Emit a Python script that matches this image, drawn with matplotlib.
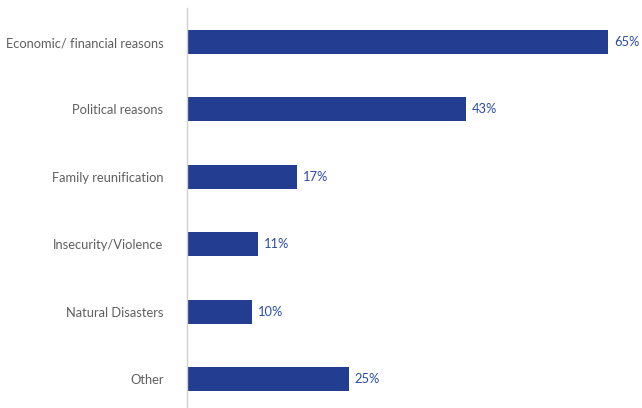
import matplotlib.pyplot as plt

categories = ['Economic/ financial reasons', 'Political reasons', 'Family reunification',
              'Insecurity/Violence', 'Natural Disasters', 'Other']
values = [65, 43, 17, 11, 10, 25]

bar_color = '#233E91'
label_color = '#5F5F5F'
value_color = '#2A4AA8'

plt.rcParams['font.family'] = ['Lato', 'DejaVu Sans']

fig = plt.figure(figsize=(6.42, 4.08), dpi=100)
ax = fig.add_axes([187 / 642, 0, 453.6 / 642, 400 / 408])

pos = list(range(len(categories)))
ax.barh(pos, values, height=0.356, color=bar_color)
for p, v in zip(pos, values):
    ax.text(v + 0.9, p, f'{v}%', va='center', ha='left', fontsize=9.3, color=value_color)

ax.set_xlim(0, 70)
ax.set_ylim(5 + 29 / 67.4, -34 / 67.4)
ax.set_yticks(pos)
ax.set_yticklabels(categories, fontsize=9.3, color=label_color)
ax.tick_params(axis='y', length=0, pad=17)
ax.set_xticks([])
for s in ['top', 'right', 'bottom']:
    ax.spines[s].set_visible(False)
ax.spines['left'].set_color('#D0D0D0')
ax.spines['left'].set_linewidth(1)

fig.savefig('out.png', dpi=100)
